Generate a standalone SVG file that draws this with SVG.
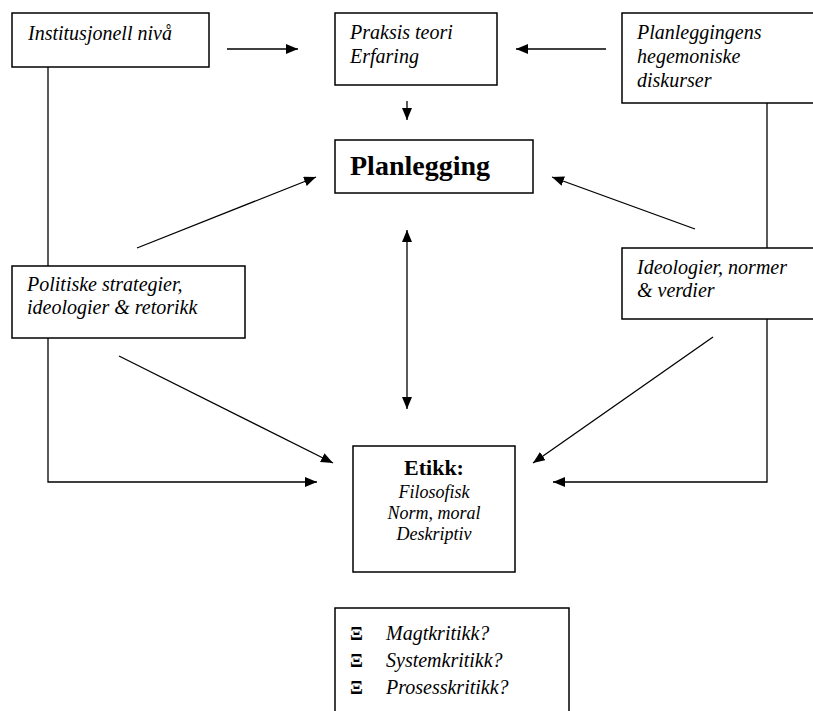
<svg xmlns="http://www.w3.org/2000/svg" width="813" height="711" viewBox="0 0 813 711">
<style>
.box{fill:#fff;stroke:#000;stroke-width:1.5}
.t{font-family:"Liberation Serif","Times New Roman",serif;font-style:italic;font-size:20px;fill:#000}
.s{font-size:18px}
.b{font-family:"Liberation Serif","Times New Roman",serif;font-weight:bold;fill:#000}
.x{font-family:"Liberation Serif","DejaVu Serif",serif;font-weight:bold;font-size:19px;fill:#000}
.ln{fill:none;stroke:#000;stroke-width:1.3}
</style>
<defs>
<marker id="ah" markerUnits="userSpaceOnUse" markerWidth="13" markerHeight="11" refX="12" refY="5" orient="auto">
<path d="M0,0 L12,5 L0,10 Z" fill="#000"/>
</marker>
<marker id="as" markerUnits="userSpaceOnUse" markerWidth="13" markerHeight="11" refX="0" refY="5" orient="auto">
<path d="M12,0 L0,5 L12,10 Z" fill="#000"/>
</marker>
</defs>
<g id="connectors">
<line class="ln" x1="227" y1="49" x2="298" y2="49" marker-end="url(#ah)"/>
<line class="ln" x1="606" y1="49" x2="516" y2="49" marker-end="url(#ah)"/>
<line class="ln" x1="407" y1="101" x2="407" y2="120" marker-end="url(#ah)"/>
<line class="ln" x1="137" y1="248" x2="316" y2="177" marker-end="url(#ah)"/>
<line class="ln" x1="695" y1="229" x2="552" y2="177" marker-end="url(#ah)"/>
<line class="ln" x1="407" y1="230" x2="407" y2="409" marker-start="url(#as)" marker-end="url(#ah)"/>
<line class="ln" x1="119" y1="356" x2="333" y2="463" marker-end="url(#ah)"/>
<line class="ln" x1="713" y1="337" x2="533" y2="463" marker-end="url(#ah)"/>
<line class="ln" x1="48" y1="67" x2="48" y2="266"/>
<polyline class="ln" points="48,338 48,482 317,482" marker-end="url(#ah)"/>
<line class="ln" x1="767" y1="103" x2="767" y2="248"/>
<polyline class="ln" points="767,319 767,482 553,482" marker-end="url(#ah)"/>
</g>
<g id="institusjonell">
<rect class="box" x="12" y="13" width="197" height="54"/>
<text class="t" x="28" y="40">Institusjonell nivå</text>
</g>
<g id="praksis">
<rect class="box" x="335" y="13" width="162" height="72"/>
<text class="t" x="350" y="39">Praksis teori</text>
<text class="t" x="350" y="63">Erfaring</text>
</g>
<g id="planleggingens">
<rect class="box" x="622" y="13" width="210" height="90"/>
<text class="t" x="637" y="39">Planleggingens</text>
<text class="t" x="637" y="63">hegemoniske</text>
<text class="t" x="637" y="87">diskurser</text>
</g>
<g id="planlegging">
<rect class="box" x="335" y="140" width="198" height="53"/>
<text class="b" x="350" y="175" font-size="28">Planlegging</text>
</g>
<g id="politiske">
<rect class="box" x="12" y="266" width="233" height="72"/>
<text class="t" x="27" y="291">Politiske strategier,</text>
<text class="t" x="27" y="314">ideologier &amp; retorikk</text>
</g>
<g id="ideologier">
<rect class="box" x="622" y="248" width="210" height="71"/>
<text class="t" x="637" y="274">Ideologier, normer</text>
<text class="t" x="637" y="297">&amp; verdier</text>
</g>
<g id="etikk">
<rect class="box" x="353" y="446" width="162" height="126"/>
<text class="b" x="434" y="475" font-size="22" text-anchor="middle">Etikk:</text>
<text class="t s" x="434" y="498" text-anchor="middle">Filosofisk</text>
<text class="t s" x="434" y="519" text-anchor="middle">Norm, moral</text>
<text class="t s" x="434" y="540" text-anchor="middle">Deskriptiv</text>
</g>
<g id="kritikk">
<rect class="box" x="335" y="608" width="234" height="130"/>
<text class="x" x="350" y="640">Ξ</text>
<text class="t" x="386" y="640">Magtkritikk?</text>
<text class="x" x="350" y="667">Ξ</text>
<text class="t" x="386" y="667">Systemkritikk?</text>
<text class="x" x="350" y="694">Ξ</text>
<text class="t" x="386" y="694">Prosesskritikk?</text>
</g>
</svg>
